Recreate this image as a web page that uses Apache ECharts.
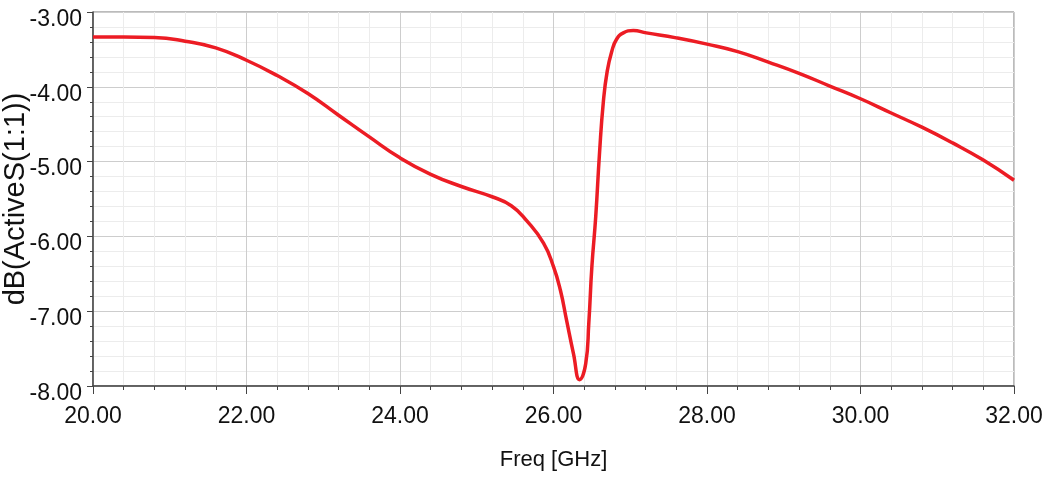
<!DOCTYPE html>
<html>
<head>
    <meta charset="utf-8">
    <script src="https://cdn.jsdelivr.net/npm/echarts@6/dist/echarts.min.js"></script>
    <style type="text/css">
        html, body { width: 100%; height: 100%; margin: 0; background: #fff; }
        #chart { width: 1046px; height: 483px; }
    </style>
</head>
<body>
<div id="chart"></div>
<script type="text/javascript">
    // frequency points (GHz)
    var freq = [20.0, 20.4, 20.8, 21.2, 21.6, 22.0, 22.4, 22.8, 23.2, 23.6,
        24.0, 24.4, 24.8, 25.2, 25.45, 25.65, 25.87, 26.0, 26.09,
        26.17, 26.26, 26.34, 26.42, 26.46, 26.5, 26.55, 26.6, 26.65, 26.7,
        26.76, 26.82, 26.91, 27.04, 27.21, 27.6, 28.0, 28.4, 28.8, 29.2,
        29.6, 30.0, 30.4, 30.8, 31.2, 31.6, 32.0];
    // dB(ActiveS(1:1))
    var s11 = [-3.333, -3.333, -3.34, -3.39, -3.48, -3.645, -3.85, -4.09, -4.38, -4.67,
        -4.95, -5.17, -5.333, -5.47, -5.59, -5.79, -6.09, -6.405, -6.72,
        -7.12, -7.566, -7.915, -7.70, -7.16, -6.405, -5.74, -4.88, -4.195, -3.79,
        -3.525, -3.368, -3.279, -3.248, -3.279, -3.346, -3.43, -3.53, -3.67, -3.82,
        -3.99, -4.16, -4.35, -4.54, -4.75, -4.98, -5.25];

    var xName = 'Freq [GHz]';
    var yName = 'dB(ActiveS(1:1))';

    var data = freq.map(function (f, i) { return [f, s11[i]]; });

    var font = "'Liberation Sans', Arial, sans-serif";

    var option = {
        animation: false,
        grid: {
            left: 93,
            top: 12,
            right: 32,
            bottom: 97,
            outerBoundsMode: 'none',
            show: true,
            borderColor: '#777',
            borderWidth: 1
        },
        xAxis: {
            type: 'value',
            min: 20,
            max: 32,
            interval: 2,
            name: xName,
            nameLocation: 'middle',
            nameGap: 63,
            nameMoveOverlap: false,
            nameTextStyle: { fontFamily: font, fontSize: 22, color: '#111' },
            axisLine: { show: true, lineStyle: { color: '#444', width: 1.5 } },
            axisTick: { show: true, inside: false, length: 8, lineStyle: { color: '#444' } },
            minorTick: { show: true, splitNumber: 5, length: 4, lineStyle: { color: '#444' } },
            axisLabel: {
                margin: 19,
                fontFamily: font,
                fontSize: 23,
                color: '#111',
                formatter: function (v) { return v.toFixed(2); }
            },
            splitLine: { show: true, lineStyle: { color: '#cdcdcd', width: 1 } },
            minorSplitLine: { show: true, lineStyle: { color: '#ececec', width: 1 } }
        },
        yAxis: {
            type: 'value',
            min: -8,
            max: -3,
            interval: 1,
            name: yName,
            nameLocation: 'middle',
            nameGap: 63,
            nameMoveOverlap: false,
            nameTextStyle: { fontFamily: font, fontSize: 29, color: '#111' },
            axisLine: { show: true, lineStyle: { color: '#444', width: 1.5 } },
            axisTick: { show: true, inside: false, length: 6, lineStyle: { color: '#444' } },
            minorTick: { show: true, splitNumber: 5, length: 3, lineStyle: { color: '#444' } },
            axisLabel: {
                margin: 11,
                verticalAlign: 'top',
                lineHeight: 15,
                fontFamily: font,
                fontSize: 23,
                color: '#111',
                formatter: function (v) { return v.toFixed(2); }
            },
            splitLine: { show: true, lineStyle: { color: '#cdcdcd', width: 1 } },
            minorSplitLine: { show: true, lineStyle: { color: '#ececec', width: 1 } }
        },
        series: [{
            type: 'line',
            data: data,
            showSymbol: false,
            smooth: 0.5,
            lineStyle: { color: '#ec1c24', width: 3.5 }
        }]
    };

    var myChart = echarts.init(document.getElementById('chart'));
    myChart.setOption(option);
</script>
</body>
</html>
